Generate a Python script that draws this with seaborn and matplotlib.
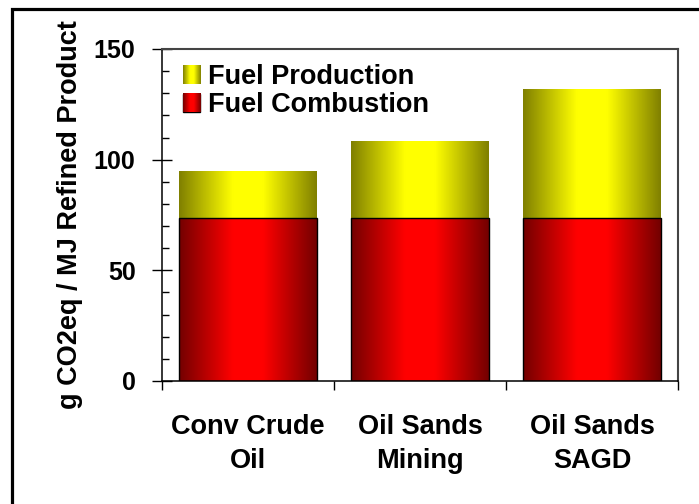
import numpy as np
import pandas as pd
import matplotlib
matplotlib.use("Agg")
import matplotlib.pyplot as plt
import seaborn as sns
from matplotlib.patches import Rectangle, Patch
from matplotlib.ticker import MultipleLocator, FixedLocator

# Emissions per MJ of refined product
categories = ["Conv Crude\nOil", "Oil Sands\nMining", "Oil Sands\nSAGD"]
fuel_combustion = [73.5, 73.5, 73.5]
fuel_production = [21.0, 34.5, 58.0]
series_labels = ["Fuel Production", "Fuel Combustion"]
y_ticks = [0, 50, 100, 150]
y_label = "g CO2eq / MJ Refined Product"

totals = [c + p for c, p in zip(fuel_combustion, fuel_production)]

sns.set_theme(style="white")
plt.rcParams["font.family"] = ["Liberation Sans", "DejaVu Sans"]
plt.rcParams["font.weight"] = "bold"
for key in ["text.color", "axes.labelcolor", "xtick.color", "ytick.color"]:
    plt.rcParams[key] = "black"

W, H = 699, 504
fig = plt.figure(figsize=(W / 100, H / 100), dpi=100)
ax = fig.add_axes([162 / W, 1 - 381 / H, (678 - 162) / W, (381 - 49) / H])

df = pd.DataFrame({"category": categories, "total": totals, "combustion": fuel_combustion})
sns.barplot(data=df, x="category", y="total", color="yellow", width=0.8,
            saturation=1, ax=ax)
sns.barplot(data=df, x="category", y="combustion", color="red", width=0.8,
            saturation=1, ax=ax)

YELLOW = (np.array([1.0, 1.0, 0.0]), np.array([0.5, 0.5, 0.0]))
RED = (np.array([1.0, 0.0, 0.0]), np.array([0.45, 0.0, 0.0]))


def shaded(colors, n=256):
    bright, dark = colors
    t = np.abs(np.linspace(-1, 1, n))
    f = np.clip((1 - t) / 0.78, 0, 1)
    rgb = dark[None, :] + (bright - dark)[None, :] * f[:, None]
    return rgb[None, :, :]


n = len(categories)
for i, p in enumerate(ax.patches):
    cols = YELLOW if i < n else RED
    x, y = p.get_x(), p.get_y()
    w, h = p.get_width(), p.get_height()
    ax.imshow(shaded(cols), extent=[x, x + w, y, y + h], aspect="auto",
              interpolation="bilinear", zorder=p.get_zorder() + (0.1 if i >= n else 0))
    p.set_facecolor("none")
    if i >= n:
        p.set_edgecolor("black")
        p.set_linewidth(1.0)
        p.set_zorder(p.get_zorder() + 0.2)
    else:
        p.set_edgecolor("none")

ax.set_xlim(-0.5, n - 0.5)
ax.set_ylim(0, 150)
ax.set_aspect("auto")

# y axis
ax.yaxis.set_major_locator(FixedLocator(y_ticks))
ax.yaxis.set_minor_locator(MultipleLocator(10))
ax.tick_params(axis="y", which="major", direction="inout", length=14, width=1,
               color="black", labelsize=18, pad=12, left=True)
ax.tick_params(axis="y", which="minor", direction="in", length=5, width=1,
               color="black", left=True)
ax.set_ylabel(y_label, fontsize=19.5, fontweight="bold", labelpad=8)

# x axis: labels at the bar centres, ticks at the category boundaries
ax.set_xticks(range(n))
ax.set_xticklabels(categories)
ax.xaxis.set_minor_locator(FixedLocator(np.arange(-0.5, n, 1.0)))
ax.tick_params(axis="x", which="major", length=0, labelsize=19.5, pad=24)
ax.tick_params(axis="x", which="minor", direction="out", length=6.5, width=1,
               color="black", bottom=True)
for lab in ax.get_xticklabels():
    lab.set_linespacing(1.4)
ax.set_xlabel("")

for side in ["left", "bottom"]:
    ax.spines[side].set_color("black")
    ax.spines[side].set_linewidth(1.1)
for side in ["top", "right"]:
    ax.spines[side].set_color("#444444")
    ax.spines[side].set_linewidth(1.5)

# legend with shaded swatches
handles = [Patch(facecolor="yellow", edgecolor="none"),
           Patch(facecolor="red", edgecolor="black", linewidth=1.0)]
leg = ax.legend(handles, series_labels, loc="upper left", frameon=False,
                fontsize=19.5, handlelength=0.65, handleheight=0.65,
                handletextpad=0.3, labelspacing=0.08, borderpad=0.2,
                bbox_to_anchor=(0.003, 1.012))

# outer frame
fig.patches.append(Rectangle((12 / W, -0.1), 1.2, (H - 9) / H + 0.1,
                             transform=fig.transFigure, fill=False,
                             edgecolor="black", linewidth=2.3))

fig.canvas.draw()
inv = ax.transAxes.inverted()
for hnd, cols in zip(leg.legend_handles, [YELLOW, RED]):
    bb = hnd.get_window_extent()
    (x0, y0), (x1, y1) = inv.transform([[bb.x0, bb.y0], [bb.x1, bb.y1]])
    ax.imshow(shaded(cols), extent=[x0, x1, y0, y1], transform=ax.transAxes,
              aspect="auto", interpolation="bilinear", zorder=6)
    hnd.set_facecolor("none")
ax.set_xlim(-0.5, n - 0.5)
ax.set_ylim(0, 150)
ax.set_aspect("auto")

fig.savefig("out.png", dpi=100)
